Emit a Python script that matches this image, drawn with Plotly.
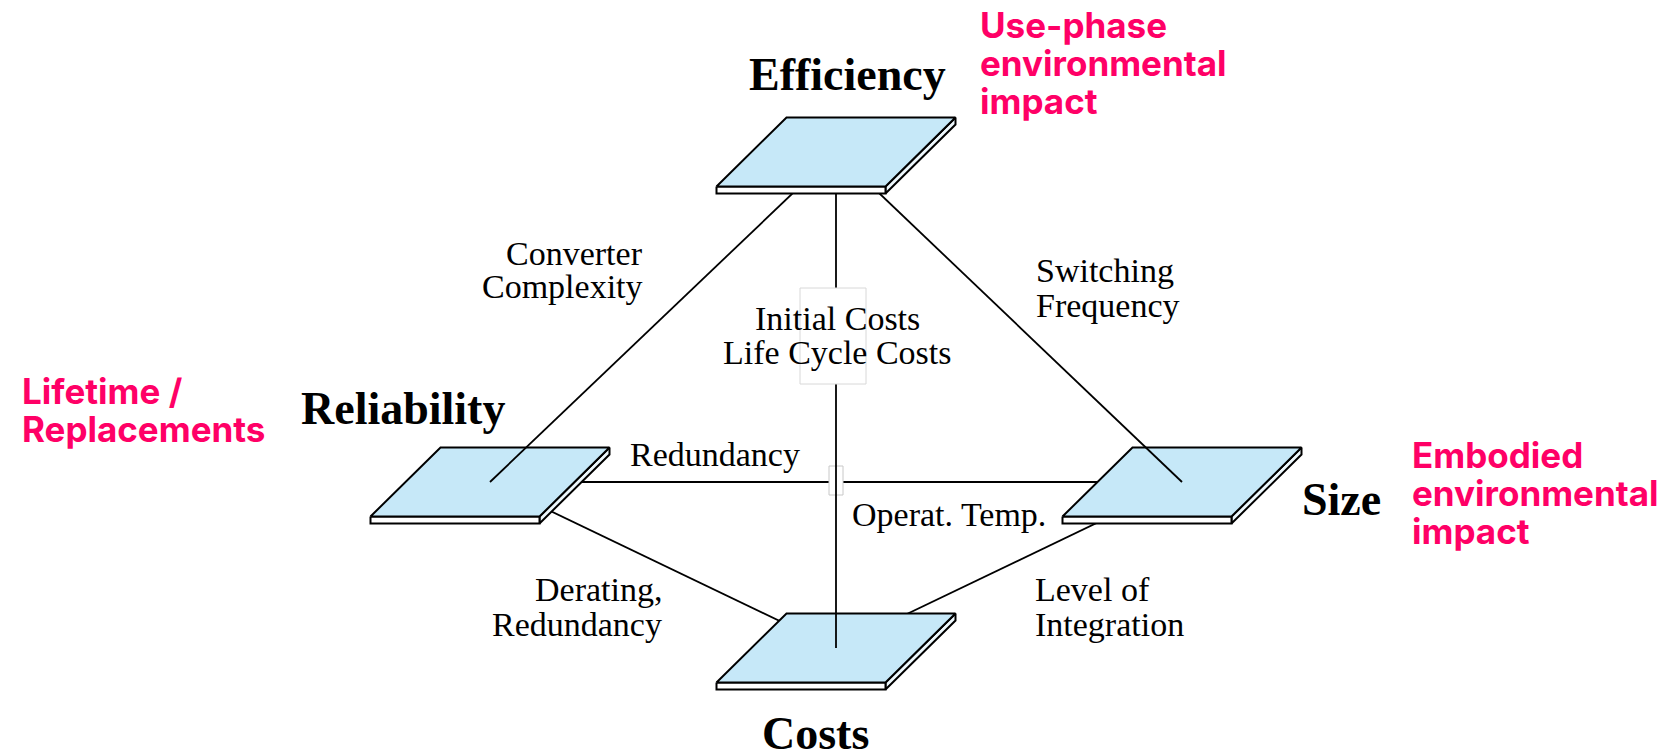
import plotly.graph_objects as go

# ---- data ----
node_names = ["Efficiency", "Reliability", "Size", "Costs"]
node_x = [836, 490, 1182, 836]
node_y = [152, 482, 482, 648]

# edges: (from, to) as indices into node lists
edges_under = [(1, 2), (1, 3), (2, 3)]      # drawn beneath plates
edges_top = [(0, 1), (0, 2), (0, 3)]        # drawn from Efficiency onto lower plates

title_labels = ["Efficiency", "Reliability", "Size", "Costs"]
title_x = [847, 403, 1341, 815]
title_y = [74, 408, 499, 733]

edge_labels = ["Converter", "Complexity", "Switching", "Frequency",
               "Initial Costs", "Life Cycle Costs", "Redundancy", "Operat. Temp.",
               "Derating,", "Redundancy", "Level of", "Integration"]
edge_label_x = [645, 645, 1034, 1034, 837, 837, 715, 850, 664, 664, 1033, 1033]
edge_label_y = [253, 286, 270, 305, 318, 352, 454, 514, 589, 624, 589, 624]
edge_label_anchor = ["right", "right", "left", "left", "center", "center", "center",
                     "left", "right", "right", "left", "left"]

impact_lines = [["Use-phase", "environmental", "impact"],
                ["Lifetime /", "Replacements"],
                ["Embodied", "environmental", "impact"]]
impact_x = [978, 20, 1410]
impact_y0 = [25, 391, 455]

# ---- style / geometry ----
W, H, S, T = 169, 69, 70, 7
FACE = "#c6e8f8"
SIDE = "#eef8fd"
PINK = "#ff0066"
LW = 1.8

fig = go.Figure()


def line(x0, y0, x1, y1, width=LW, color="black"):
    fig.add_trace(go.Scatter(x=[x0, x1], y=[y0, y1], mode="lines",
                             line=dict(color=color, width=width),
                             hoverinfo="skip", showlegend=False))


def poly(xs, ys, fill, lc="black", lw=2):
    fig.add_trace(go.Scatter(x=xs + [xs[0]], y=ys + [ys[0]], mode="lines",
                             fill="toself", fillcolor=fill,
                             line=dict(color=lc, width=lw),
                             hoverinfo="skip", showlegend=False))


def plate(i):
    cx, cy = node_x[i], node_y[i]
    bl = (cx - W / 2 - S / 2, cy + H / 2)
    br = (cx + W / 2 - S / 2, cy + H / 2)
    tr = (cx + W / 2 + S / 2, cy - H / 2)
    tl = (cx - W / 2 + S / 2, cy - H / 2)
    poly([br[0], tr[0], tr[0], br[0]], [br[1], tr[1], tr[1] + T, br[1] + T], SIDE)
    poly([bl[0], br[0], br[0], bl[0]], [bl[1], br[1], br[1] + T, bl[1] + T], "white")
    poly([bl[0], br[0], tr[0], tl[0]], [bl[1], br[1], tr[1], tl[1]], FACE)


for a, b in edges_under:
    line(node_x[a], node_y[a], node_x[b], node_y[b])

poly([829, 843, 843, 829], [466, 466, 495, 495], "white", lc="#c8c8c8", lw=1)

for i in (1, 2, 3):
    plate(i)

for a, b in edges_top:
    line(node_x[a], node_y[a], node_x[b], node_y[b])

poly([800, 866, 866, 800], [288, 288, 384, 384], "white", lc="#d8d8d8", lw=1)

plate(0)

# ---- text ----
ann = []
for t, x, y in zip(title_labels, title_x, title_y):
    ann.append(dict(text=t, x=x, y=y, xanchor="center", yanchor="middle",
                    font=dict(family="Liberation Serif", size=46, color="black", weight="bold")))
for t, x, y, a in zip(edge_labels, edge_label_x, edge_label_y, edge_label_anchor):
    ann.append(dict(text=t, x=x, y=y, xanchor=a, yanchor="middle",
                    font=dict(family="Liberation Serif", size=34, color="black")))
for lines_, x, y0 in zip(impact_lines, impact_x, impact_y0):
    for k, t in enumerate(lines_):
        ann.append(dict(text=t, x=x, y=y0 + 38 * k, xanchor="left", yanchor="middle",
                        font=dict(family="Inter", size=35, color=PINK, weight="bold")))
for a in ann:
    a.update(xref="x", yref="y", showarrow=False)

fig.update_layout(
    width=1672, height=751,
    margin=dict(l=0, r=0, t=0, b=0),
    paper_bgcolor="white", plot_bgcolor="white",
    xaxis=dict(range=[0, 1672], visible=False, fixedrange=True),
    yaxis=dict(range=[751, 0], visible=False, fixedrange=True),
    annotations=ann, showlegend=False,
)

fig.write_html("out.html", config={"displayModeBar": False},
               post_script="document.body.style.margin='0';document.body.style.overflow='hidden';")
